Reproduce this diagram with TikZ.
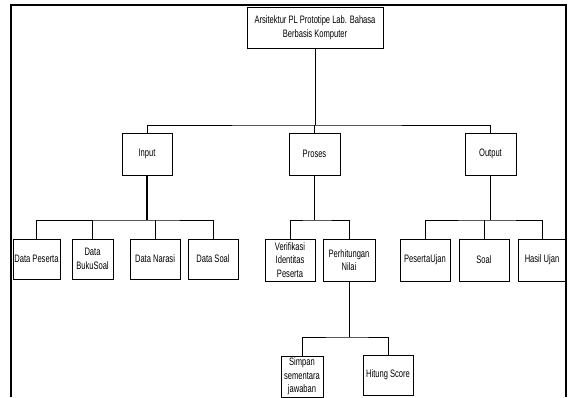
\documentclass[tikz,border=0pt]{standalone}
\usepackage{fontspec}
\setmainfont{Liberation Sans}[FakeStretch=0.7]
\begin{document}
\begin{tikzpicture}[x=1pt,y=-1pt,
  box/.style={draw,line width=1pt,inner sep=0pt,align=center,
    font=\fontsize{10.8}{13.5}\selectfont},
  link/.style={line width=1pt},
  trunk/.style={line width=2pt},
  frame/.style={line width=2pt}]
\useasboundingbox (0,0) rectangle (571,397);

% page frame, open at the bottom
\draw[frame] (11,397) -- (11,5) -- (566,5) -- (566,397);

% tree levels
\coordinate (lvl1) at (0,125);
\coordinate (lvl2) at (0,220);
\coordinate (lvl3) at (0,337);

% root
\node[box,minimum width=136,minimum height=41] (title) at (315,27.5)
  {Arsitektur PL Prototipe Lab. Bahasa\\Berbasis Komputer};

% first level
\node[box,minimum width=50,minimum height=42] (input)  at (147,154)   {Input};
\node[box,minimum width=51,minimum height=42] (proses) at (314.5,154) {Proses};
\node[box,minimum width=51,minimum height=42] (output) at (490.5,154) {Output};

% children of Input
\node[box,minimum width=47,minimum height=40] (dp)    at (36.5,259) {Data Peserta};
\node[box,minimum width=41,minimum height=40] (db)    at (92.5,259) {Data\\BukuSoal};
\node[box,minimum width=50,minimum height=40] (dn)    at (155,259)  {Data Narasi};
\node[box,minimum width=50,minimum height=40] (dsoal) at (213,259)  {Data Soal};

% children of Proses
\node[box,minimum width=50,minimum height=42] (ver) at (290,260) {Verifikasi\\Identitas\\Peserta};
\node[box,minimum width=52,minimum height=42] (per) at (349,260) {Perhitungan\\Nilai};

% children of Output
\node[box,minimum width=50,minimum height=42] (pu)    at (425,260) {PesertaUjan};
\node[box,minimum width=50,minimum height=42] (soal)  at (484,260) {Soal};
\node[box,minimum width=48,minimum height=42] (hasil) at (542,260) {Hasil Ujan};

% children of Perhitungan Nilai
\node[box,minimum width=42,minimum height=41] (simpan) at (302,376.5) {Simpan\\sementara\\jawaban};
\node[box,minimum width=50,minimum height=40] (hitung) at (388,375)   {Hitung Score};

% root to first level
\draw[link] (title.south) -- (title.south |- lvl1);
\draw[link] (input.north) |- (title.south |- lvl1) -| (output.north);
\draw[link] (proses.north) -- (proses.north |- lvl1);

% Input branch
\draw[trunk] (input.south) -- (input.south |- lvl2);
\draw[link] (dp.north) |- (input.south |- lvl2) -| (dsoal.north);
\draw[link] (db.north) -- (db.north |- lvl2);
\draw[link] (dn.north) -- (dn.north |- lvl2);

% Proses branch
\draw[link] (proses.south) -- (proses.south |- lvl2);
\draw[link] (ver.north) |- (proses.south |- lvl2) -| (per.north);

% Output branch
\draw[link] (output.south) -- (output.south |- lvl2);
\draw[link] (pu.north) |- (output.south |- lvl2) -| (hasil.north);
\draw[link] (soal.north) -- (soal.north |- lvl2);

% Perhitungan Nilai branch
\draw[link] (per.south) -- (per.south |- lvl3);
\draw[link] (simpan.north) |- (per.south |- lvl3) -| (hitung.north);
\end{tikzpicture}
\end{document}
